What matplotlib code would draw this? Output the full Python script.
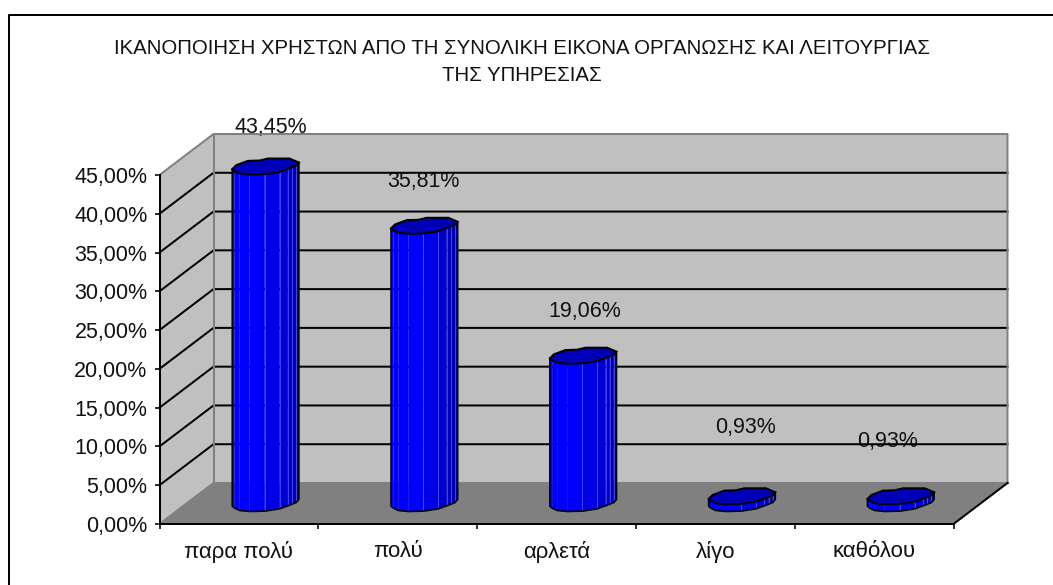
import matplotlib
matplotlib.use("Agg")
import matplotlib.pyplot as plt
from matplotlib.ticker import FixedLocator, NullFormatter
import numpy as np

plt.rcParams['font.family'] = ['Liberation Sans', 'DejaVu Sans']

# --- data ---
categories = ["παρα πολύ", "πολύ", "αρλετά", "λίγο", "καθόλου"]
values = [43.45, 35.81, 19.06, 0.93, 0.93]
value_labels = ["43,45%", "35,81%", "19,06%", "0,93%", "0,93%"]
y_ticks = [0, 5, 10, 15, 20, 25, 30, 35, 40, 45]
y_tick_labels = ["0,00%", "5,00%", "10,00%", "15,00%", "20,00%", "25,00%",
                 "30,00%", "35,00%", "40,00%", "45,00%"]
title = ("ΙΚΑΝΟΠΟΙΗΣΗ ΧΡΗΣΤΩΝ ΑΠΟ ΤΗ ΣΥΝΟΛΙΚΗ ΕΙΚΟΝΑ ΟΡΓΑΝΩΣΗΣ ΚΑΙ ΛΕΙΤΟΥΡΓΙΑΣ\n"
         "ΤΗΣ ΥΠΗΡΕΣΙΑΣ")

# --- layout (pixels) ---
W, H = 1053, 585
L, R, B, T = 159.5, 953.5, 524.0, 175.0
fig = plt.figure(figsize=(W / 100, H / 100), dpi=100, facecolor="white")
ax = fig.add_axes([L / W, 1 - B / H, (R - L) / W, (B - T) / H])
ax.set_xlim(0, 5)
ax.set_ylim(0, 45)
ax.patch.set_visible(False)
PX = (R - L) / 5      # pixels per category
PY = (B - T) / 45     # pixels per percent
DX, DY = 54 / PX, 41 / PY   # depth of the 3-D box in data units
px = 72 / 100         # one pixel in points

WALL, FLOOR, EDGE = "#C0C0C0", "#808080", "#808080"

# walls and floor
ax.fill([0, DX, DX, 0], [0, DY, 45 + DY, 45], color=WALL, lw=0, zorder=1, clip_on=False)
ax.fill([DX, 5 + DX, 5 + DX, DX], [DY, DY, 45 + DY, 45 + DY], color=WALL, lw=0, zorder=1, clip_on=False)
ax.fill([0, 5, 5 + DX, DX], [0, 0, DY, DY], color=FLOOR, lw=0, zorder=1, clip_on=False)

# data labels sit below the gridlines
label_px = [(271, 127), (423, 182), (585, 312), (745, 428), (887, 441)]
for i, (lab, v) in enumerate(zip(value_labels, values)):
    cx = i + 0.5 + DX / 2
    top = v + DY / 2
    ox = label_px[i][0] - (L + cx * PX)
    oy = (B - top * PY) - label_px[i][1]
    ax.annotate(lab, (cx, top), xytext=(ox * px, oy * px), textcoords="offset points",
                ha="center", va="center", fontsize=15.5, color="#111111",
                zorder=2, annotation_clip=False)

# gridlines
for y in y_ticks[1:-1]:
    ax.plot([0, DX, 5 + DX], [y, y + DY, y + DY], color="black", lw=2 * px, zorder=3,
            clip_on=False, solid_joinstyle="miter")
# wall edges
ax.plot([0, DX, 5 + DX, 5 + DX], [45, 45 + DY, 45 + DY, DY], color=EDGE, lw=2 * px, zorder=3, clip_on=False)
ax.plot([DX, DX, 5 + DX], [45 + DY, DY, DY], color=EDGE, lw=2 * px, zorder=3, clip_on=False)
ax.plot([0, DX], [0, DY], color=EDGE, lw=2 * px, zorder=3, clip_on=False)
ax.plot([5, 5 + DX], [0, DY], color="black", lw=2 * px, zorder=3, clip_on=False)

# footprint of the faceted column, pixels relative to its centre (from zoomed crop)
lower = np.array([(278, 182), (285, 188), (300, 195), (330, 198), (375, 197),
                  (420, 190), (445, 181), (458, 176), (470, 171), (478, 162)], float)
upper = np.array([(478, 162), (450, 150), (385, 150), (360, 156), (325, 157),
                  (290, 170), (278, 182)], float)
centre = np.array([379, 174.0])
lower = (lower - centre) / 3
upper = (upper - centre) / 3
facet_cols = ["#0000FF"] * 4 + ["#0000E6", "#0000D2", "#0000C0", "#0000B0", "#0000A0"]
seps = [4, 5, 6, 7, 8]

for i, v in enumerate(values):
    cx = i + 0.5 + DX / 2
    base = DY / 2
    lx = cx + lower[:, 0] / PX
    ux = cx + upper[:, 0] / PX
    l_off = -lower[:, 1] / PY
    u_off = -upper[:, 1] / PY
    top = base + v
    for k in range(len(lx) - 1):
        ax.fill([lx[k], lx[k + 1], lx[k + 1], lx[k]],
                [base + l_off[k], base + l_off[k + 1], top + l_off[k + 1], top + l_off[k]],
                color=facet_cols[k], lw=0, zorder=4, clip_on=False)
    for k in seps:
        ax.plot([lx[k], lx[k]], [base + l_off[k], top + l_off[k]], color="#5050FF",
                lw=0.8 * px, zorder=5, clip_on=False)
    # outline: sides and lower rim
    ox = np.r_[lx[0], lx, lx[-1]]
    oy = np.r_[top + l_off[0], base + l_off, top + l_off[-1]]
    ax.plot(ox, oy, color="black", lw=1.6 * px, zorder=6, clip_on=False)
    # top cap
    ax.fill(np.r_[lx, ux], np.r_[top + l_off, top + u_off], facecolor="#0000B8",
            edgecolor="black", lw=2 * px, zorder=7, clip_on=False)

# axes
for s in ("top", "right"):
    ax.spines[s].set_visible(False)
for s in ("left", "bottom"):
    ax.spines[s].set_linewidth(2 * px)
    ax.spines[s].set_color("black")
    ax.spines[s].set_zorder(8)
ax.set_yticks(y_ticks)
ax.set_yticklabels(y_tick_labels, fontsize=15.5, color="#111111")
ax.tick_params(axis="y", direction="out", length=5 * px, width=1.6 * px, pad=7 * px)
ax.xaxis.set_major_locator(FixedLocator(range(6)))
ax.xaxis.set_major_formatter(NullFormatter())
ax.set_xticks([i + 0.5 for i in range(5)], minor=True)
ax.set_xticklabels(categories, minor=True, fontsize=16, color="#111111")
ax.tick_params(axis="x", which="major", direction="out", length=5 * px, width=1.6 * px)
ax.tick_params(axis="x", which="minor", length=0, pad=17 * px)

# title and chart frame
fig.text(521.5 / W, 1 - 62 / H, title, ha="center", va="center", fontsize=14.7,
         color="#111111", linespacing=1.55)
fig.add_artist(plt.Line2D([8.5 / W, 8.5 / W, 1], [0, 1 - 14.5 / H, 1 - 14.5 / H],
                          color="black", lw=2 * px, transform=fig.transFigure))

fig.savefig("out.png", dpi=100)
